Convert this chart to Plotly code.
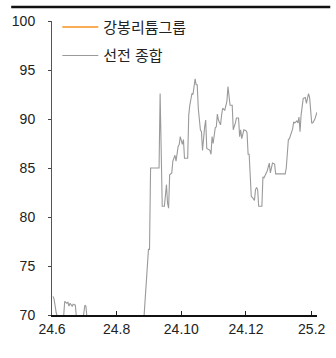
import plotly.graph_objects as go

# Shenzhen composite (rebased) - dates and values
sz_dates = [
    "2024-06-02", "2024-06-03", "2024-06-04", "2024-06-05", "2024-06-07", "2024-06-09",
    "2024-06-10", "2024-06-12", "2024-06-13", "2024-06-15", "2024-06-16", "2024-06-17",
    "2024-06-18", "2024-06-20", "2024-06-21", "2024-06-23", "2024-06-24", "2024-06-27",
    "2024-06-30", "2024-07-02", "2024-07-03", "2024-07-04", "2024-07-10", "2024-07-20",
    "2024-07-30", "2024-08-10", "2024-08-20", "2024-08-26", "2024-08-31", "2024-09-01",
    "2024-09-02", "2024-09-10", "2024-09-11", "2024-09-13", "2024-09-15", "2024-09-17",
    "2024-09-18", "2024-09-19", "2024-09-20", "2024-09-22", "2024-09-23", "2024-09-25",
    "2024-09-26", "2024-09-28", "2024-09-29", "2024-09-30", "2024-10-02", "2024-10-03",
    "2024-10-04", "2024-10-07", "2024-10-08", "2024-10-09", "2024-10-11", "2024-10-12",
    "2024-10-14", "2024-10-15", "2024-10-16", "2024-10-17", "2024-10-19", "2024-10-20",
    "2024-10-21", "2024-10-23", "2024-10-24", "2024-10-25", "2024-10-27", "2024-10-28",
    "2024-10-29", "2024-10-30", "2024-10-31", "2024-11-02", "2024-11-03", "2024-11-04",
    "2024-11-05", "2024-11-07", "2024-11-08", "2024-11-09", "2024-11-11", "2024-11-12",
    "2024-11-13", "2024-11-14", "2024-11-15", "2024-11-16", "2024-11-18", "2024-11-19",
    "2024-11-21", "2024-11-22", "2024-11-24", "2024-11-25", "2024-11-26", "2024-11-27",
    "2024-11-29", "2024-12-01", "2024-12-02", "2024-12-03", "2024-12-04", "2024-12-06",
    "2024-12-07", "2024-12-09", "2024-12-10", "2024-12-11", "2024-12-12", "2024-12-13",
    "2024-12-16", "2024-12-17", "2024-12-18", "2024-12-20", "2024-12-21", "2024-12-23",
    "2024-12-24", "2024-12-26", "2024-12-28", "2024-12-29", "2025-01-07", "2025-01-08",
    "2025-01-10", "2025-01-11", "2025-01-13", "2025-01-14", "2025-01-15", "2025-01-16",
    "2025-01-18", "2025-01-19", "2025-01-20", "2025-01-21", "2025-01-22", "2025-01-23",
    "2025-01-24", "2025-01-26", "2025-01-27", "2025-01-29", "2025-01-30", "2025-02-01",
    "2025-02-02", "2025-02-04", "2025-02-06",
]
sz_values = [
    71.9, 71.6, 70.9, 70.2, 69.6, 69.8,
    69.5, 69.9, 71.4, 71.2, 71.3, 70.9,
    71.2, 70.9, 71.1, 71.0, 69.8, 69.2,
    69.4, 71.0, 70.9, 69.7, 69.0, 68.6,
    68.2, 67.9, 67.5, 68.5, 76.7, 76.7,
    85.0, 85.0, 92.6, 81.1, 81.1, 83.3,
    81.4, 80.9, 84.3, 84.5, 85.7, 86.3,
    85.7, 87.2, 87.4, 88.2, 87.4, 87.9,
    86.0, 86.0, 90.4, 91.4, 92.6, 92.5,
    94.1, 93.5, 93.5, 91.1, 88.9, 88.7,
    86.8, 89.2, 89.9, 87.0, 86.8, 86.8,
    86.4, 88.2, 87.5, 89.1, 89.2, 90.5,
    89.9, 89.4, 90.4, 91.1, 90.9, 91.5,
    91.8, 93.3, 91.9, 91.4, 91.4, 88.9,
    89.6, 90.1, 90.1, 88.2, 88.9, 88.0,
    88.9, 88.8, 88.6, 86.4, 86.4, 82.1,
    82.0, 81.7, 82.8, 83.0, 82.8, 81.1,
    81.1, 84.1, 84.0, 84.5, 84.7, 85.5,
    84.5, 85.5, 85.4, 84.4, 84.4, 85.0,
    87.9, 88.0, 88.7, 89.0, 89.7, 89.6,
    89.8, 89.6, 90.2, 88.7, 90.4, 91.3,
    92.1, 92.2, 91.6, 92.6, 92.2, 89.6,
    89.6, 90.0, 90.7,
]

# Ganfeng Lithium Group - no points fall inside the plotted range
gf_dates = [None]
gf_values = [None]

tick_dates = ["2024-06-01", "2024-08-01", "2024-10-01", "2024-12-01", "2025-02-01"]
tick_labels = ["24.6", "24.8", "24.10", "24.12", "25.2"]
y_ticks = [70, 75, 80, 85, 90, 95, 100]

FONT = "Arial, 'Liberation Sans', 'Noto Sans CJK KR', sans-serif"

fig = go.Figure()
fig.add_trace(go.Scatter(
    x=gf_dates, y=gf_values, mode="lines", name="강봉리튬그룹",
    line=dict(color="#F7931E", width=1.6), legendgroup="a",
))
fig.add_trace(go.Scatter(
    x=sz_dates, y=sz_values, mode="lines", name="선전 종합",
    line=dict(color="#9A9A9A", width=1.1), legendgroup="b",
))

fig.update_layout(
    width=336, height=358,
    margin=dict(l=52, r=11, t=21, b=43),
    paper_bgcolor="white", plot_bgcolor="white",
    font=dict(family=FONT, color="#222222", size=14),
    showlegend=True,
    legend=dict(
        x=0.02, y=1.035, xanchor="left", yanchor="top",
        bgcolor="rgba(0,0,0,0)", font=dict(size=15, color="#222222"),
        traceorder="grouped", tracegroupgap=6, itemwidth=36,
    ),
    xaxis=dict(
        type="date",
        range=["2024-06-01", "2025-02-06"],
        tickmode="array", tickvals=tick_dates, ticktext=tick_labels,
        ticks="inside", ticklen=4, tickcolor="#222222", tickwidth=1,
        showline=True, linecolor="#111111", linewidth=1.5,
        showgrid=False, zeroline=False,
        tickfont=dict(size=14, color="#222222"),
    ),
    yaxis=dict(
        range=[70, 100],
        tickmode="array", tickvals=y_ticks,
        ticks="outside", ticklen=3, tickcolor="#444444", tickwidth=1,
        showline=True, linecolor="#555555", linewidth=1,
        showgrid=False, zeroline=False,
        tickfont=dict(size=14, color="#222222"),
        ticklabelstandoff=10,
    ),
    shapes=[dict(
        type="line", xref="paper", yref="paper",
        x0=-0.154, x1=1.05, y0=1.048, y1=1.048,
        line=dict(color="#111111", width=2.5),
    )],
)

fig.write_html("out.html")
